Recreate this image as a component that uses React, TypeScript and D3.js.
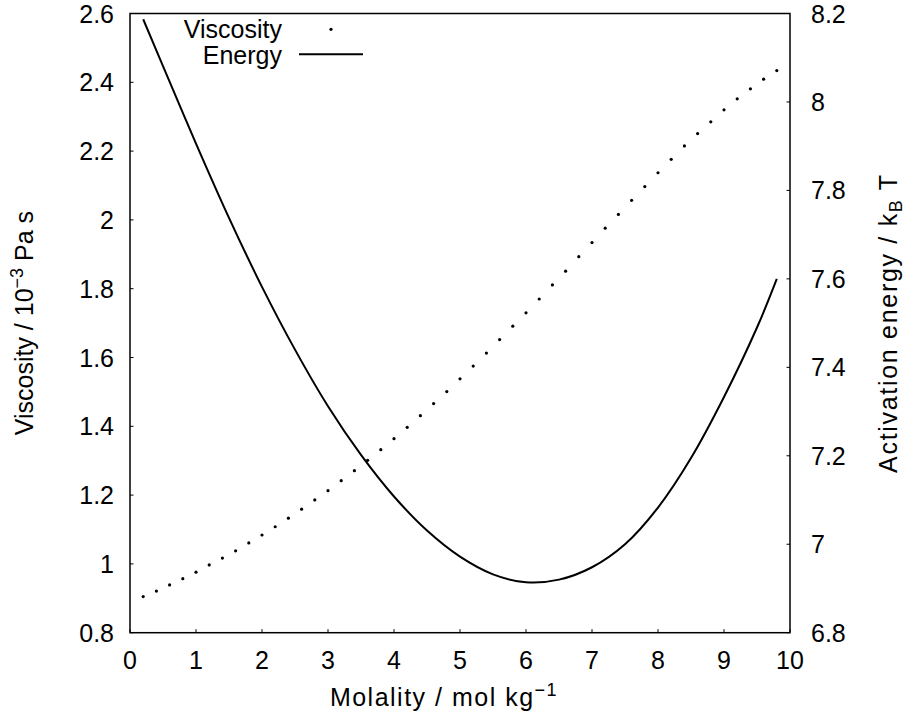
import React from 'react';
import * as d3 from 'd3';

// molality / mol kg^-1 for the viscosity points
const molality = [
  0.2, 0.4, 0.6, 0.8, 1.0, 1.2, 1.4, 1.6, 1.8, 2.0,
  2.2, 2.4, 2.6, 2.8, 3.0, 3.2, 3.4, 3.6, 3.8, 4.0,
  4.2, 4.4, 4.6, 4.8, 5.0, 5.2, 5.4, 5.6, 5.8, 6.0,
  6.2, 6.4, 6.6, 6.8, 7.0, 7.2, 7.4, 7.6, 7.8, 8.0,
  8.2, 8.4, 8.6, 8.8, 9.0, 9.2, 9.4, 9.6, 9.8,
];
// viscosity / 10^-3 Pa s
const viscosity = [
  0.905, 0.921, 0.939, 0.957, 0.976, 0.997, 1.017, 1.038, 1.061, 1.084,
  1.108, 1.133, 1.159, 1.186, 1.213, 1.242, 1.271, 1.301, 1.332, 1.364,
  1.397, 1.431, 1.466, 1.501, 1.538, 1.575, 1.613, 1.652, 1.691, 1.730,
  1.770, 1.811, 1.851, 1.893, 1.934, 1.976, 2.016, 2.057, 2.097, 2.137,
  2.176, 2.215, 2.251, 2.285, 2.320, 2.352, 2.381, 2.409, 2.434,
];

// activation energy / kB T
const energyMolality = [
  0.2, 0.5, 1.0, 1.5, 2.0, 2.5, 3.0, 3.5, 4.0, 4.5, 5.0,
  5.5, 6.0, 6.5, 7.0, 7.5, 8.0, 8.5, 9.0, 9.5, 9.8,
];
const energy = [
  8.187, 8.081, 7.906, 7.738, 7.582, 7.440, 7.312, 7.202, 7.108, 7.031, 6.972,
  6.932, 6.914, 6.920, 6.948, 7.000, 7.083, 7.195, 7.333, 7.490, 7.600,
];

const xTicks = [0, 1, 2, 3, 4, 5, 6, 7, 8, 9, 10];
const leftTicks = [0.8, 1, 1.2, 1.4, 1.6, 1.8, 2, 2.2, 2.4, 2.6];
const rightTicks = [6.8, 7, 7.2, 7.4, 7.6, 7.8, 8, 8.2];

const W = 910;
const H = 720;
const left = 130;
const right = 790;
const top = 13.5;
const bottom = 632.7;
const font = '"Liberation Sans", Arial, Helvetica, sans-serif';
const fs = 25;
const tick = 3.5;

export default function App() {
  const x = d3.scaleLinear().domain([0, 10]).range([left, right]);
  const yL = d3.scaleLinear().domain([0.8, 2.6]).range([bottom, top]);
  const yR = d3.scaleLinear().domain([6.8, 8.2]).range([bottom, top]);

  const pts = energyMolality.map((m, i) => [m, energy[i]] as [number, number]);
  const line = d3.line<[number, number]>()
    .x(d => x(d[0]))
    .y(d => yR(d[1]))
    .curve(d3.curveCatmullRom.alpha(0.5));

  return (
    <svg width={W} height={H} style={{ position: 'absolute', left: 0, top: 0, background: '#fff' }}
      fontFamily={font} fontSize={fs}>
      <rect width={W} height={H} fill="#fff" />

      {/* ticks */}
      {xTicks.map(t => (
        <g key={'x' + t}>
          <line x1={x(t)} x2={x(t)} y1={bottom} y2={bottom - tick} stroke="#000" strokeWidth={1} />
          <text x={x(t)} y={669} textAnchor="middle">{t}</text>
        </g>
      ))}
      {leftTicks.map(t => (
        <g key={'l' + t}>
          <line x1={left} x2={left + tick} y1={yL(t)} y2={yL(t)} stroke="#000" strokeWidth={1} />
          <text x={114} y={yL(t) + 9} textAnchor="end">{t}</text>
        </g>
      ))}
      {rightTicks.map(t => (
        <g key={'r' + t}>
          <line x1={right} x2={right - tick} y1={yR(t)} y2={yR(t)} stroke="#000" strokeWidth={1} />
          <text x={811} y={yR(t) + 9} textAnchor="start">{t}</text>
        </g>
      ))}

      {/* data */}
      <path d={line(pts) || ''} fill="none" stroke="#000" strokeWidth={2} />
      {molality.map((m, i) => (
        <circle key={i} cx={x(m)} cy={yL(viscosity[i])} r={1.6} fill="#000" />
      ))}

      {/* frame */}
      <rect x={left} y={top} width={right - left} height={bottom - top} fill="none" stroke="#000" strokeWidth={1.5} />

      {/* legend */}
      <text x={282} y={38} textAnchor="end">Viscosity</text>
      <circle cx={331} cy={29.3} r={1.6} fill="#000" />
      <text x={282} y={64} textAnchor="end">Energy</text>
      <line x1={299} x2={363} y1={54.3} y2={54.3} stroke="#000" strokeWidth={2} />

      {/* axis labels */}
      <text x={444} y={706} textAnchor="middle" letterSpacing={1.5}>
        Molality / mol kg<tspan fontSize={18} dy={-10}>−1</tspan>
      </text>
      <text transform={`translate(33,${(top + bottom) / 2}) rotate(-90)`} textAnchor="middle">
        Viscosity / 10<tspan fontSize={18} dy={-10}>−3</tspan><tspan dy={10}> Pa s</tspan>
      </text>
      <text transform={`translate(897,${(top + bottom) / 2}) rotate(-90)`} textAnchor="middle" letterSpacing={1.7}>
        Activation energy / k<tspan fontSize={18} dy={5}>B</tspan><tspan dy={-5}> T</tspan>
      </text>
    </svg>
  );
}
